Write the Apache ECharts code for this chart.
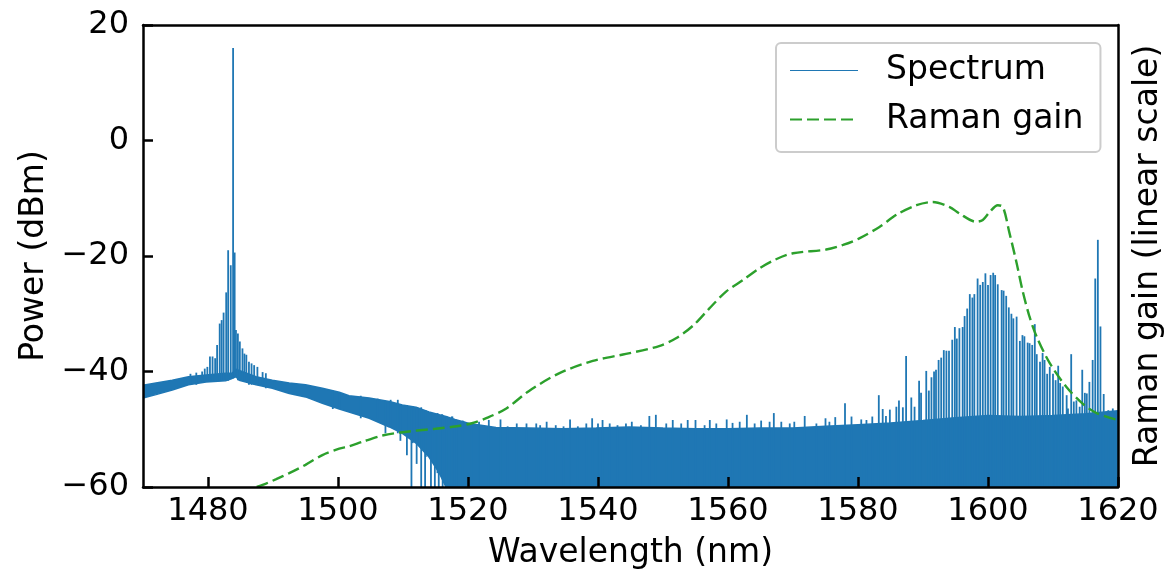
<!DOCTYPE html>
<html>
<head>
<meta charset="UTF-8">
<title>Spectrum / Raman gain</title>
<script src="https://cdn.jsdelivr.net/npm/echarts@6/dist/echarts.min.js"></script>
<style>
    html, body { margin: 0; padding: 0; background: #fff; }
    #chart { width: 1167px; height: 577px; }
</style>
</head>
<body>
<div id="chart"></div>
<script type="text/javascript">
// x ticks (nm)
var xTicks = [1480, 1500, 1520, 1540, 1560, 1580, 1600, 1620];

// noise band of the spectrum: wavelength, upper and lower edge (dBm)
var bandWl = [1470, 1472, 1474.5, 1477, 1479.7, 1482.7, 1483.7, 1484.3, 1484.8, 1487.4, 1489.9, 1492.5, 1495, 1497.6,
    1500.2, 1501.7, 1504.8, 1507.9, 1509.9, 1512, 1514, 1515.6, 1516.6, 1518, 1520.2, 1524.3, 1529.4, 1534.5, 1539.7,
    1544.8, 1550, 1555, 1560, 1565, 1570, 1575, 1580, 1585, 1590, 1595, 1600, 1605, 1610, 1615, 1620];
var bandHigh = [-42.4, -42.0, -41.5, -40.9, -40.6, -40.3, -40.3, -39.6, -39.8, -40.9, -41.5, -42.0, -42.3, -42.9,
    -43.6, -44.2, -44.6, -45.2, -45.8, -46.2, -47.0, -47.5, -47.8, -48.3, -49.0, -49.7, -49.8, -49.9, -49.8,
    -49.6, -49.8, -49.9, -49.9, -49.8, -49.8, -49.5, -49.2, -48.9, -48.5, -48.0, -47.6, -47.8, -47.6, -47.3, -46.8];
var bandLow = [-44.6, -44.0, -43.2, -42.3, -41.8, -41.6, -41.2, -40.9, -41.5, -42.3, -42.9, -43.8, -44.4, -45.5,
    -46.5, -47.0, -48.1, -49.6, -50.7, -52.4, -54.8, -57.6, -60, -60, -60, -60, -60, -60, -60,
    -60, -60, -60, -60, -60, -60, -60, -60, -60, -60, -60, -60, -60, -60, -60, -60];

// lines around the pump: wavelength, peak (dBm)
var pumpWl = [1477.3, 1478.2, 1479.1, 1479.5, 1479.9, 1480.3, 1480.7, 1481.1, 1481.4, 1481.8, 1482.1, 1482.4, 1482.8,
    1483.1, 1483.5, 1483.86, 1484.1, 1484.3, 1484.6, 1484.9, 1485.3, 1485.6, 1485.9, 1486.3, 1486.7, 1487.1, 1487.6,
    1488.4, 1488.9];
var pumpPeak = [-40.4, -40.2, -40.0, -39.5, -39.2, -37.4, -37.4, -37.7, -35.4, -31.7, -31.1, -29.8, -26.3,
    -19.0, -21.6, 16.0, -19.4, -32.8, -33.4, -34.8, -36.0, -36.9, -37.1, -38.3, -38.6, -38.9, -39.2,
    -40.1, -40.3];

// noise spikes on top of the floor: wavelength, peak (dBm)
var floorWl = [1499.2, 1500.2, 1503.5, 1506.1, 1508.1, 1509.2, 1511.5, 1512.2, 1513.5, 1515.3, 1517.6, 1519.2,
    1516.0, 1516.7, 1517.5, 1518.2, 1519.4, 1520.5, 1521.7, 1523.2, 1525.0, 1526.1, 1527.5, 1529.0, 1530.5, 1531.1,
    1532.1, 1533.5, 1534.7, 1535.7, 1536.9, 1538.2, 1539.1, 1540.0, 1540.7, 1541.8, 1543.0, 1544.3, 1545.2, 1546.6,
    1547.9, 1548.9, 1550.5, 1551.5, 1552.8, 1553.8,
    1555.0, 1556.4, 1557.2, 1558.2, 1559.8, 1560.7, 1561.8, 1562.9, 1564.1, 1565.1, 1566.4, 1567.05, 1568.2, 1569.5,
    1570.2, 1571.8, 1573.6, 1575.0, 1575.6, 1576.5, 1578.0, 1579.0, 1580.5, 1581.3, 1582.2, 1583.2, 1584.3,
    1612.3, 1614.1, 1617.2, 1618.5, 1619.2];
var floorPeak = [-43.3, -43.8, -44.2, -44.7, -44.9, -44.9, -46.0, -46.2, -46.7, -47.2, -47.8, -48.5,
    -47.4, -47.7, -47.8, -48.4, -48.7, -49.0, -48.7, -48.4, -48.3, -49.5, -49.0, -49.0, -49.0, -49.3,
    -48.7, -49.3, -49.5, -48.3, -49.5, -49.0, -48.1, -49.0, -48.4, -49.0, -49.3, -49.0, -48.7, -49.3,
    -47.7, -47.5, -49.0, -48.4, -49.0, -48.4,
    -48.4, -49.3, -48.4, -49.0, -48.3, -48.9, -48.7, -47.5, -49.0, -48.5, -48.7, -47.2, -48.7, -49.0,
    -48.7, -47.7, -49.0, -48.1, -48.7, -47.9, -45.5, -47.8, -48.3, -48.4, -47.8, -44.1, -47.7,
    -46.4, -46.1, -47.2, -46.7, -46.4];

// Stokes comb around 1600 nm and the lines near 1617 nm: wavelength, peak (dBm)
var stokesWl = [1583.8, 1584.9, 1585.9, 1586.3, 1586.9, 1587.4, 1588.2, 1588.7, 1589.4, 1589.7, 1590.5, 1590.9, 1591.3,
    1591.7, 1592.0, 1592.4, 1592.8, 1593.2, 1593.6, 1594.0, 1594.5, 1594.9, 1595.2, 1595.6, 1596.1, 1596.4, 1596.8,
    1597.2, 1597.6, 1597.9, 1598.4, 1598.8, 1599.2, 1599.6, 1600.0, 1600.4, 1600.8, 1601.1, 1601.5, 1602.1, 1602.4,
    1602.8, 1603.2, 1603.6, 1603.9, 1604.4, 1604.9, 1605.3, 1605.6, 1606.1, 1606.4, 1606.8, 1607.2, 1607.5, 1608.0,
    1608.4, 1608.7, 1609.1, 1609.5, 1610.0, 1610.4, 1610.8, 1611.1, 1611.5, 1612.1, 1612.8, 1613.2, 1613.6, 1614.5,
    1614.9, 1615.2, 1615.6, 1616.1, 1616.5, 1616.9, 1617.3, 1617.8];
var stokesPeak = [-46.5, -46.6, -46.1, -45.0, -46.2, -37.3, -44.5, -46.1, -41.6, -43.7, -39.9, -43.3, -41.0,
    -40.0, -39.7, -38.0, -37.6, -36.3, -36.4, -36.4, -34.5, -32.3, -34.3, -32.5, -32.3, -30.4, -29.1,
    -26.6, -27.2, -26.6, -23.9, -25.0, -24.5, -23.0, -25.0, -23.3, -22.9, -23.3, -24.9, -25.9, -26.0,
    -26.9, -28.9, -30.0, -30.8, -30.5, -34.7, -33.7, -33.9, -35.0, -35.1, -35.4, -31.8, -37.0, -38.3,
    -36.8, -38.0, -40.4, -39.2, -40.4, -41.5, -39.0, -42.0, -42.6, -44.1, -37.0, -45.2, -45.0, -39.7,
    -43.7, -43.8, -41.8, -38.0, -23.9, -17.2, -32.2, -43.9];

// downward dips below the band edge: wavelength, bottom (dBm)
var dipWl = [1507.3, 1509.6, 1510.6, 1511.3, 1512.1, 1512.8, 1513.4, 1514.3, 1514.9, 1515.5, 1516.1];
var dipLow = [-50.7, -52.0, -54.5, -60, -56.0, -60, -60, -60, -60, -60, -60];

// Raman gain, linear scale (fraction of the axis height)
var gainWl = [1487.5, 1489, 1490.5, 1492.5, 1495, 1497.6, 1500.2, 1501.7, 1503.8, 1507, 1509.6, 1512, 1515, 1518,
    1520.6, 1522.8, 1525.9, 1529.4, 1534.0, 1539.2, 1544.3, 1549.4, 1552.0, 1554.6, 1557.1, 1559.7, 1562.3, 1564.8,
    1567.4, 1570.0, 1575.1, 1577.7, 1580.2, 1583.3, 1586, 1589, 1591.5, 1594.1, 1595.6, 1598.2, 1599.2, 1600.3,
    1601.5, 1602.3, 1603.3, 1604.4, 1605.3, 1606.4, 1607.5, 1609.5, 1612.1, 1614.6, 1616.7, 1620];
var gainVal = [0.000, 0.008, 0.017, 0.030, 0.048, 0.069, 0.083, 0.088, 0.098, 0.112, 0.118, 0.122, 0.126, 0.131,
    0.138, 0.149, 0.170, 0.208, 0.246, 0.273, 0.288, 0.305, 0.322, 0.349, 0.386, 0.423, 0.448, 0.473,
    0.493, 0.506, 0.514, 0.524, 0.538, 0.563, 0.590, 0.610, 0.617, 0.606, 0.592, 0.574, 0.578, 0.596,
    0.610, 0.606, 0.550, 0.485, 0.426, 0.368, 0.325, 0.268, 0.216, 0.180, 0.160, 0.145];

var FONT = 'DejaVu Sans';
var BLUE = '#1f77b4';

function zip(a, b) {
    var out = [];
    for (var i = 0; i < a.length; i++) out.push([a[i], b[i]]);
    return out;
}
// value of a band edge at the nearest sampled wavelength
function nearest(arr, x) {
    var best = 0;
    for (var i = 1; i < bandWl.length; i++) {
        if (Math.abs(bandWl[i] - x) < Math.abs(bandWl[best] - x)) best = i;
    }
    return arr[best];
}

var segs = [];
function addLines(wls, peaks) {
    for (var i = 0; i < wls.length; i++) segs.push([wls[i], nearest(bandLow, wls[i]), peaks[i]]);
}
addLines(pumpWl, pumpPeak);
addLines(floorWl, floorPeak);
addLines(stokesWl, stokesPeak);
for (var j = 0; j < dipWl.length; j++) segs.push([dipWl[j], nearest(bandHigh, dipWl[j]), dipLow[j]]);

function minusFmt(v) { return v < 0 ? '\u2212' + Math.abs(v) : String(v); }

var myChart = echarts.init(document.getElementById('chart'));
var option = {
    animation: false,
    backgroundColor: '#fff',
    grid: { left: 143, right: 49, top: 25, bottom: 90, outerBoundsMode: 'none', containLabel: false },
    legend: {
        orient: 'vertical',
        left: 776,
        top: 43,
        z: 20,
        itemWidth: 68,
        itemHeight: 14,
        itemGap: 16,
        padding: [11, 17, 16, 13],
        backgroundColor: '#fff',
        borderColor: '#cccccc',
        borderWidth: 2,
        borderRadius: 5,
        itemStyle: { opacity: 0 },
        textStyle: { fontSize: 33, fontFamily: FONT, color: '#000', padding: [0, 0, 0, 23] },
        data: [
            { name: 'Spectrum', lineStyle: { width: 1.2, color: BLUE } },
            { name: 'Raman gain' }
        ]
    },
    xAxis: [
        {
            type: 'value', min: 1470, max: 1620, position: 'bottom', z: 10,
            name: 'Wavelength (nm)', nameLocation: 'middle', nameGap: 50,
            nameTextStyle: { fontSize: 33, fontFamily: FONT, color: '#000' },
            axisLine: { show: true, onZero: false, lineStyle: { color: '#000', width: 2.5 } },
            axisTick: { show: true, inside: true, length: 10, customValues: xTicks, lineStyle: { color: '#000', width: 2.5 } },
            axisLabel: { customValues: xTicks, fontSize: 32, fontFamily: FONT, color: '#000', margin: 9,
                formatter: function (v) { return String(v); } },
            splitLine: { show: false }
        },
        {
            type: 'value', min: 1470, max: 1620, position: 'top', z: 10,
            axisLine: { show: true, onZero: false, lineStyle: { color: '#000', width: 2.5 } },
            axisTick: { show: false }, axisLabel: { show: false }, splitLine: { show: false }
        }
    ],
    yAxis: [
        {
            type: 'value', min: -60, max: 20, interval: 20, position: 'left', z: 10,
            name: 'Power (dBm)', nameLocation: 'middle', nameGap: 90,
            nameTextStyle: { fontSize: 33, fontFamily: FONT, color: '#000' },
            axisLine: { show: true, onZero: false, lineStyle: { color: '#000', width: 2.5 } },
            axisTick: { show: true, inside: true, length: 10, lineStyle: { color: '#000', width: 2.5 } },
            axisLabel: { fontSize: 32, fontFamily: FONT, color: '#000', margin: 14, formatter: minusFmt },
            splitLine: { show: false }
        },
        {
            type: 'value', min: 0, max: 1, position: 'right', z: 10,
            name: 'Raman gain (linear scale)', nameLocation: 'middle', nameRotate: 90, nameGap: 14,
            nameTextStyle: { fontSize: 33, fontFamily: FONT, color: '#000' },
            axisLine: { show: true, onZero: false, lineStyle: { color: '#000', width: 2.5 } },
            axisTick: { show: false }, axisLabel: { show: false }, splitLine: { show: false }
        }
    ],
    series: [
        {
            name: 'Spectrum', type: 'line', z: 2,
            symbol: 'none',
            lineStyle: { color: BLUE, width: 1.5 },
            itemStyle: { color: BLUE },
            areaStyle: { color: BLUE, opacity: 1, origin: 'start' },
            data: zip(bandWl, bandHigh)
        },
        {
            name: 'bandFloor', type: 'line', z: 3,
            symbol: 'none',
            lineStyle: { color: BLUE, width: 1.5 },
            areaStyle: { color: '#fff', opacity: 1, origin: 'start' },
            data: zip(bandWl, bandLow)
        },
        {
            name: 'lines', type: 'custom', z: 4, clip: true,
            encode: { x: 0, y: [1, 2] },
            renderItem: function (params, api) {
                var a = api.coord([api.value(0), api.value(1)]);
                var b = api.coord([api.value(0), api.value(2)]);
                return {
                    type: 'line',
                    shape: { x1: a[0], y1: a[1], x2: b[0], y2: b[1] },
                    style: { stroke: BLUE, lineWidth: 1.8 }
                };
            },
            data: segs
        },
        {
            name: 'Raman gain', type: 'line', z: 5,
            yAxisIndex: 1,
            symbol: 'none',
            smooth: 0.3,
            lineStyle: { color: '#2ca02c', width: 2.4, type: [12, 5] },
            itemStyle: { color: '#2ca02c' },
            data: zip(gainWl, gainVal)
        }
    ]
};
myChart.setOption(option, true);
</script>
</body>
</html>
